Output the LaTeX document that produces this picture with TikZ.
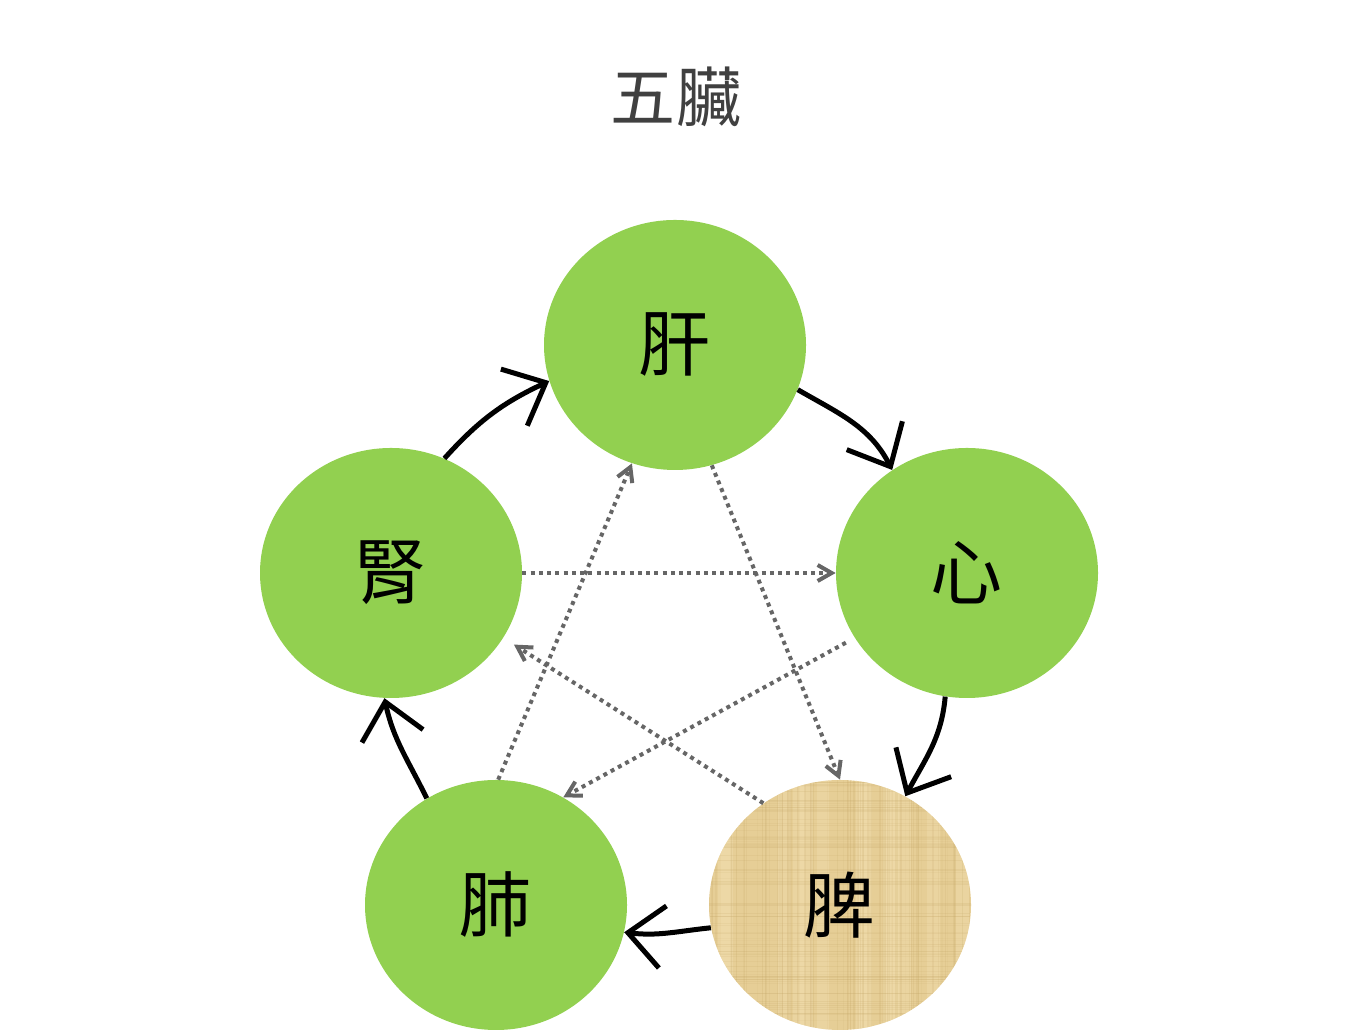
\documentclass[tikz,border=0pt]{standalone}
\usepackage{fontspec}
\setmainfont{Noto Sans CJK TC}
\usetikzlibrary{shapes.geometric,arrows.meta}

\definecolor{organgreen}{HTML}{92D050}
\definecolor{papyrus}{RGB}{230,206,150}
\definecolor{papyrusdark}{RGB}{196,166,102}
\definecolor{papyruslight}{RGB}{243,226,180}
\definecolor{dotgray}{HTML}{666666}
\definecolor{titlegray}{HTML}{404040}

\tikzset{
	organ/.style={ellipse, inner sep=0pt, minimum width=52.4mm, minimum height=50mm, fill=organgreen, font=\fontsize{41}{41}\selectfont},
	papyrusfill/.style={fill=papyrus, path picture={
			\pgfmathsetseed{2024}
			\foreach \k in {1,...,14}{
				\pgfmathsetmacro{\sx}{27*rand}
				\fill[papyruslight, opacity=0.35] ([xshift=\sx mm]path picture bounding box.south) rectangle ([xshift=\sx mm+2.5mm]path picture bounding box.north);
			}
			\foreach \k in {1,...,90}{
				\pgfmathsetmacro{\sx}{27*rand}
				\pgfmathsetmacro{\so}{0.05+0.15*rnd}
				\draw[papyrusdark, opacity=\so, line width=0.25mm] ([xshift=\sx mm]path picture bounding box.south) -- ([xshift=\sx mm]path picture bounding box.north);
			}
			\foreach \k in {1,...,90}{
				\pgfmathsetmacro{\sy}{26*rand}
				\pgfmathsetmacro{\so}{0.05+0.15*rnd}
				\draw[papyrusdark, opacity=\so, line width=0.2mm] ([yshift=\sy mm]path picture bounding box.west) -- ([yshift=\sy mm]path picture bounding box.east);
			}
		}},
	feed/.style={line width=1mm, -{Straight Barb[length=7mm, width=12.5mm]}},
	check/.style={dotgray, line width=0.8mm, dash pattern=on 0.8mm off 0.85mm, -{Straight Barb[length=2.8mm, width=3.2mm]}},
}

\begin{document}
\begin{tikzpicture}[x=0.2mm, y=0.2mm]
	\useasboundingbox (0, 0) rectangle (1350, 1031);
	
	% title
	\node[text=titlegray, font=\fontsize{37}{37}\selectfont] (title) at (676, 934) {五臟};
	
	% the five organs
	\node[organ] (gan) at (675, 686) {肝};
	\node[organ] (xin) at (967, 458) {心};
	\node[organ, papyrusfill] (pi) at (840, 126) {脾};
	\node[organ] (fei) at (496, 126) {肺};
	\node[organ] (shen) at (391, 458) {腎};
	
	% outer cycle
	\draw[feed] (gan.-20) to[out=-30, in=117] (xin.126);
	\draw[feed] (xin.-100) to[out=-95, in=62] (pi.59);
	\draw[feed] (pi.-170) to[out=186, in=-7] (fei.-12);
	\draw[feed] (fei.123) to[out=116, in=-78] (shen.-93);
	\draw[feed] (shen.65) to[out=48, in=205] (gan.196);
	
	% inner star
	\draw[check] (gan.-73) -- (pi.90);
	\draw[check, shorten >=2.5mm] (pi.127) -- (shen.-30);
	\draw[check] (shen.east) -- (xin.west);
	\draw[check, shorten <=2mm] (xin.210) -- (fei.58);
	\draw[check] (fei.89) -- (gan.-110);
\end{tikzpicture}
\end{document}
